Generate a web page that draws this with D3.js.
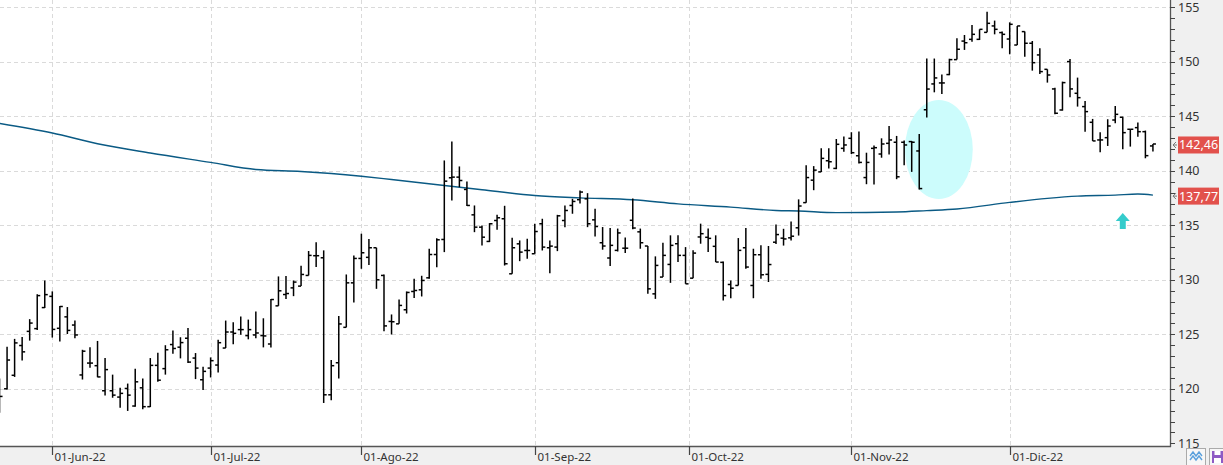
<!DOCTYPE html>
<html><head><meta charset="utf-8">
<script src="https://cdn.jsdelivr.net/npm/d3@7"></script>
<style>html,body{margin:0;padding:0;background:#fff;overflow:hidden}svg{display:block}</style>
</head><body><svg id="c" width="1223" height="465"></svg>
<script>
// ---- data ----
const opens  = [118.5,120.0,121.24,123.97,125.27,125.52,127.45,128.48,125.55,126.6,125.85,121.27,122.36,122.12,119.82,119.82,119.24,120.03,118.42,120.09,118.36,122.15,121.85,124.06,123.82,124.64,122.82,120.83,121.9,122.18,123.74,125.21,125.43,124.88,124.94,124.88,124.11,127.61,128.65,129.26,129.42,130.4,132.21,132.02,119.45,122.39,125.64,129.72,131.96,132.06,132.94,130.4,126.18,125.96,127.25,128.93,129.08,130.18,132.32,133.7,139.36,139.42,138.29,135.96,134.83,133.52,135.44,135.6,130.55,133.3,132.69,132.39,135.14,132.94,133.0,135.44,136.82,137.35,137.43,135.5,133.4,132.0,132.7,132.9,135.46,134.4,133.1,128.71,130.25,131.41,133.31,132.24,130.15,133.93,133.9,133.07,131.6,129.57,129.48,132.94,129.48,132.3,130.5,133.45,133.82,133.85,134.77,137.08,139.14,139.9,140.92,140.22,142.06,142.98,141.38,139.38,142.06,141.54,142.52,142.62,142.62,142.68,141.82,145.6,147.97,148.06,148.83,150.2,151.9,152.06,152.06,152.7,153.29,152.68,152.09,151.54,152.77,151.7,150.63,149.31,147.51,145.58,150.02,147.11,145.89,144.45,142.83,143.04,144.66,144.91,143.81,143.96,143.59,142.28];
const highs  = [120.94,123.85,124.58,124.76,126.39,128.67,129.94,128.94,127.6,127.5,126.27,123.58,123.82,124.39,122.82,121.3,120.09,120.48,121.85,120.94,122.82,123.3,124.0,125.36,124.73,125.58,123.28,122.02,122.88,124.51,126.26,126.1,126.63,126.35,127.09,126.47,128.25,130.31,130.34,129.94,131.29,132.64,133.44,132.7,122.64,126.69,130.49,132.24,134.23,133.74,132.94,130.49,126.82,128.2,128.93,130.09,130.37,132.84,133.82,140.95,142.69,140.4,139.02,136.82,134.98,135.2,135.96,136.79,133.85,133.61,133.76,135.14,135.6,133.61,135.96,136.82,137.43,138.2,137.95,136.51,134.84,134.75,134.7,133.87,137.45,134.7,133.1,132.15,133.4,134.08,134.08,133.0,132.7,135.15,134.7,134.08,131.69,129.94,133.83,134.75,132.85,133.16,133.1,135.08,134.68,135.35,137.38,140.52,140.43,142.06,142.06,142.92,143.14,143.54,143.6,141.66,142.31,142.98,144.12,143.2,142.77,142.74,143.38,150.3,150.3,148.83,150.28,152.16,152.46,153.38,152.98,154.6,153.78,152.77,153.62,153.29,152.77,151.91,151.24,149.31,147.63,148.18,150.26,148.55,146.41,144.76,143.53,144.73,145.95,144.97,143.81,144.42,143.69,142.46];
const lows   = [117.8,119.94,121.09,122.6,124.42,125.39,127.42,124.7,124.33,125.03,124.64,120.85,121.94,121.06,119.39,119.18,118.27,117.97,118.36,118.12,118.33,120.64,121.3,123.21,122.79,122.36,120.89,119.88,121.04,121.5,123.74,124.08,124.97,124.54,124.63,123.8,123.8,127.61,128.25,128.5,129.42,130.4,131.17,118.7,118.96,120.95,125.64,127.91,131.01,131.35,129.17,125.28,124.98,125.96,126.91,128.32,128.47,130.09,131.16,132.54,137.28,138.5,136.76,134.37,133.15,133.46,134.59,131.31,130.55,131.71,131.93,132.39,132.69,130.61,132.63,134.83,136.06,137.0,134.83,133.98,132.76,131.26,132.6,132.45,134.63,132.85,128.71,128.25,130.25,129.72,131.63,129.63,130.15,133.31,132.55,131.63,128.1,128.31,129.48,131.01,128.31,130.1,129.8,133.29,133.14,133.6,134.06,137.08,138.22,139.9,140.22,140.15,141.75,141.54,140.68,138.77,138.74,141.2,141.5,139.23,140.52,139.9,138.28,144.89,147.2,147.05,148.77,150.2,151.09,151.85,152.0,152.7,152.52,151.24,150.69,151.54,150.47,149.19,148.88,148.09,145.18,145.52,146.74,145.89,143.59,142.74,141.7,142.28,144.36,141.97,142.22,143.13,141.15,141.76];
const closes = [119.3,122.64,124.21,123.39,126.03,128.55,128.64,125.45,127.55,125.36,124.94,123.45,122.36,121.09,121.76,119.42,119.58,119.42,120.64,118.36,122.15,120.79,123.58,123.7,124.24,122.45,121.9,121.6,122.58,124.23,125.21,125.09,125.43,125.43,125.12,124.85,128.19,128.99,128.74,129.79,130.49,132.24,132.21,119.45,122.12,125.95,129.72,131.96,132.48,132.94,130.0,125.77,126.15,127.65,128.84,129.02,129.94,132.32,133.67,139.05,139.42,139.11,136.82,134.83,133.91,135.14,135.69,131.47,132.94,132.54,132.69,134.43,133.0,133.09,135.87,136.36,137.19,138.05,135.14,134.89,133.1,133.16,134.3,132.9,134.75,133.4,129.17,131.32,132.24,133.16,132.24,129.63,132.45,134.23,133.8,131.63,128.55,129.23,132.7,131.17,132.3,130.46,131.4,134.15,133.75,134.0,136.77,139.38,140.06,141.14,140.83,142.43,142.37,141.66,140.77,140.77,142.12,142.46,142.83,139.45,142.37,142.62,138.37,147.5,148.52,148.06,150.2,151.15,151.75,152.52,152.98,153.53,152.98,152.52,153.44,153.29,151.7,149.92,149.1,148.79,145.28,148.09,147.51,146.71,145.43,142.74,142.83,144.11,145.18,143.5,143.81,143.59,141.39,142.46];
const maIdx  = [0,7,13,20,28,34,40,44,48,52,59,64,71,77,84,90,97,103,106,111,119,123,127,134,139,143,148,151,153];
const maVals = [144.35,143.47,142.48,141.63,140.77,140.12,139.94,139.75,139.5,139.2,138.65,138.26,137.74,137.52,137.34,136.97,136.67,136.36,136.31,136.16,136.22,136.35,136.5,137.1,137.47,137.68,137.77,137.87,137.77];
const tickIdx    = [7,28,48,71,91.5,113,134];
const tickLabels = ["01-Jun-22","01-Jul-22","01-Ago-22","01-Sep-22","01-Oct-22","01-Nov-22","01-Dic-22"];
const yTicks     = [115,120,125,130,135,140,145,150,155];
const lastLabels = ["142,46","137,77"];
const lastValues = [142.46,137.77];
const zoneIdx = [124.6], zonePrice = [141.95], zoneHalfBars = [4.5], zoneHalfPrice = [4.54];
const arrowIdx = [149], arrowTop = [136.13], arrowBottom = [134.67];

// ---- layout ----
const W = 1223, H = 465, plotR = 1170, plotB = 446;
const svg = d3.select("#c");
const x = d3.scaleLinear().domain([7, 134]).range([52.3, 1009.7]);
const y = d3.scaleLinear().domain([115, 155]).range([443.3, 7.3]);
const FONT = "'Noto Sans', 'Open Sans', sans-serif";

svg.append("rect").attr("width", W).attr("height", H).attr("fill", "#f0f0f0");
svg.append("rect").attr("width", plotR).attr("height", plotB).attr("fill", "#fff");

svg.append("defs").append("clipPath").attr("id", "pc")
  .append("rect").attr("width", plotR).attr("height", plotB);
const plot = svg.append("g").attr("clip-path", "url(#pc)");

// grid
plot.selectAll("line.hg").data(yTicks.filter(v => v > 115)).join("line")
  .attr("x1", 0).attr("x2", plotR).attr("y1", d => Math.round(y(d)) + 0.5).attr("y2", d => Math.round(y(d)) + 0.5)
  .attr("stroke", "#dadada").attr("stroke-dasharray", "4,3");
plot.selectAll("line.vg").data(tickIdx).join("line")
  .attr("x1", d => Math.round(x(d)) + 0.5).attr("x2", d => Math.round(x(d)) + 0.5).attr("y1", 0).attr("y2", plotB)
  .attr("stroke", "#dadada").attr("stroke-dasharray", "4,3");

// highlight ellipse
plot.selectAll("ellipse").data(zoneIdx).join("ellipse")
  .attr("cx", (d, i) => x(d)).attr("cy", (d, i) => y(zonePrice[i]))
  .attr("rx", (d, i) => x(d + zoneHalfBars[i]) - x(d))
  .attr("ry", (d, i) => y(zonePrice[i] - zoneHalfPrice[i]) - y(zonePrice[i]))
  .attr("fill", "#ccfcfc");

// moving average
const maData = maIdx.map((d, i) => [d, maVals[i]]);
plot.append("path").datum(maData)
  .attr("d", d3.line().x(d => x(d[0])).y(d => y(d[1])).curve(d3.curveMonotoneX))
  .attr("fill", "none").attr("stroke", "#0a5a84").attr("stroke-width", 1.4);

// OHLC bars
const bars = plot.append("g").attr("stroke", "#000").attr("stroke-width", 1.5);
const idx = d3.range(opens.length);
bars.selectAll("line.hl").data(idx).join("line")
  .attr("x1", i => x(i)).attr("x2", i => x(i)).attr("y1", i => y(highs[i])).attr("y2", i => y(lows[i]));
bars.selectAll("line.o").data(idx).join("line")
  .attr("x1", i => x(i) - 3).attr("x2", i => x(i)).attr("y1", i => y(opens[i])).attr("y2", i => y(opens[i]));
bars.selectAll("line.c").data(idx).join("line")
  .attr("x1", i => x(i)).attr("x2", i => x(i) + 3).attr("y1", i => y(closes[i])).attr("y2", i => y(closes[i]));

// arrow
arrowIdx.forEach((a, i) => {
  const cx = x(a), t = y(arrowTop[i]), b = y(arrowBottom[i]), m = t + (b - t) * 0.5;
  plot.append("path")
    .attr("d", `M${cx},${t} L${cx + 7},${m} L${cx + 3},${m} L${cx + 3},${b} L${cx - 3},${b} L${cx - 3},${m} L${cx - 7},${m} Z`)
    .attr("fill", "#35cccc");
});

// axes
svg.append("line").attr("x1", plotR + 0.5).attr("x2", plotR + 0.5).attr("y1", 0).attr("y2", plotB + 1)
  .attr("stroke", "#555").attr("stroke-width", 1.3);
svg.append("line").attr("x1", 0).attr("x2", plotR + 1).attr("y1", plotB + 0.5).attr("y2", plotB + 0.5)
  .attr("stroke", "#555").attr("stroke-width", 1.3);

const minor = d3.range(115, 156, 1);
svg.selectAll("line.yt").data(minor).join("line")
  .attr("x1", plotR).attr("x2", plotR + 5).attr("y1", d => Math.round(y(d)) + 0.5).attr("y2", d => Math.round(y(d)) + 0.5)
  .attr("stroke", "#444");
svg.selectAll("text.yl").data(yTicks).join("text")
  .attr("x", plotR + 8).attr("y", d => y(d)).attr("dy", "0.36em")
  .attr("font-family", FONT).attr("font-size", 12.5).attr("fill", "#333").text(d => d);

svg.selectAll("line.xt").data(tickIdx).join("line")
  .attr("x1", d => Math.round(x(d)) + 0.5).attr("x2", d => Math.round(x(d)) + 0.5).attr("y1", plotB).attr("y2", plotB + 9)
  .attr("stroke", "#444").attr("stroke-width", 1.2);
svg.selectAll("text.xl").data(tickIdx).join("text")
  .attr("x", d => Math.round(x(d)) + 2.5).attr("y", 461)
  .attr("font-family", FONT).attr("font-size", 11.5).attr("fill", "#333")
  .text((d, i) => tickLabels[i]);

// last value labels
lastValues.forEach((v, i) => {
  const cy = y(v) + 1;
  svg.append("rect").attr("x", 1178).attr("y", cy - 8.5).attr("width", 41).attr("height", 17).attr("fill", "#e2514c");
  svg.append("text").attr("x", 1198.5).attr("y", cy).attr("dy", "0.36em").attr("text-anchor", "middle")
    .attr("font-family", FONT).attr("font-size", 12.5).attr("fill", "#fff").text(lastLabels[i]);
  svg.append("path").attr("d", `M1176,${cy - 3} L1173,${cy} L1176,${cy + 3} M1173,${cy} L1177,${cy}`)
    .attr("stroke", "#777").attr("fill", "none").attr("stroke-width", 1);
});

// corner icons
const ic = svg.append("g");
ic.append("rect").attr("x", 1186.5).attr("y", 448.5).attr("width", 19).attr("height", 17).attr("fill", "#f7f7f7").attr("stroke", "#aaa");
ic.append("path").attr("d", "M1190,456 L1193,452 L1196,456 L1199,452 L1202,456 M1190,460 L1193,456 L1196,460 L1199,456 L1202,460")
  .attr("stroke", "#5aa0dc").attr("fill", "none").attr("stroke-width", 1.4);
ic.append("rect").attr("x", 1209.5).attr("y", 448.5).attr("width", 14).attr("height", 17).attr("fill", "#f7f7f7").attr("stroke", "#aaa");
ic.append("rect").attr("x", 1212).attr("y", 451).attr("width", 11).attr("height", 12).attr("fill", "#8e5bc4");
ic.append("rect").attr("x", 1214.5).attr("y", 451).attr("width", 6).attr("height", 4).attr("fill", "#fff");
ic.append("rect").attr("x", 1214).attr("y", 458).attr("width", 7).attr("height", 5).attr("fill", "#fff");
</script></body></html>
